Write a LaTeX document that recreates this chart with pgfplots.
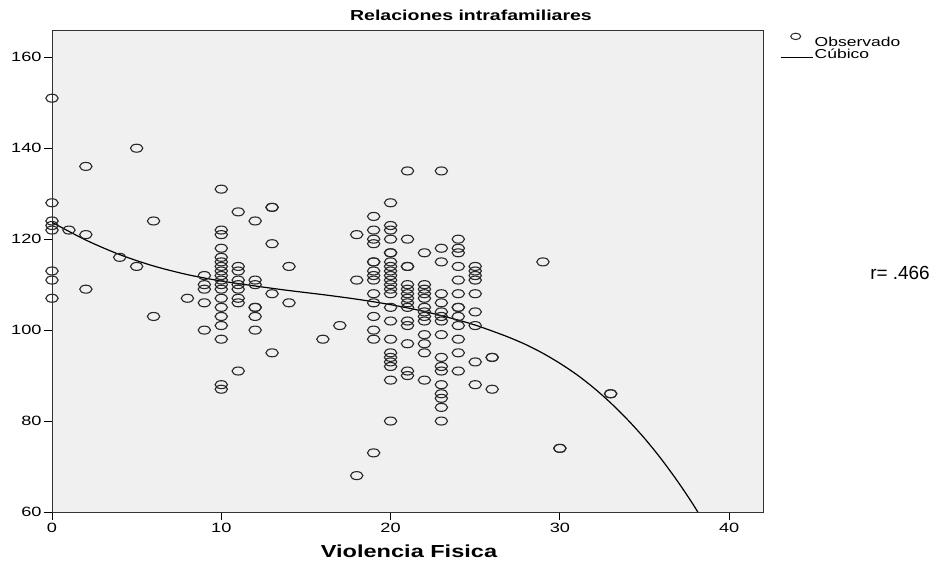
\documentclass[border=0pt]{standalone}
\usepackage{pgfplots}
\pgfplotsset{compat=1.18}
\usepackage{fontspec}
\setmainfont{Liberation Sans}[FakeStretch=1.35]
\newfontfamily\rfont{Liberation Sans}
\definecolor{plotbg}{RGB}{240,240,240}
\definecolor{markc}{RGB}{40,40,40}
\begin{document}
\begin{tikzpicture}[x=1bp,y=1bp]
\useasboundingbox (0,0) rectangle (935,568);
\begin{axis}[
  at={(52bp,56bp)}, anchor=south west,
  scale only axis, width=711bp, height=482bp,
  xmin=0, xmax=42, ymin=60, ymax=166,
  xtick={0,10,20,30,40}, ytick={60,80,100,120,140,160},
  xtick pos=bottom, ytick pos=left, tick align=outside,
  major tick length=8bp,
  tick style={black, line width=0.8bp},
  axis line style={black!80, line width=0.8bp},
  axis background/.style={fill=plotbg},
  /pgf/number format/assume math mode=true,
  ticklabel style={font=\fontsize{13.5}{15}\selectfont},
  yticklabel style={xshift=1bp},
  legend style={at={(1,1)}, anchor=north west, xshift=17bp, yshift=-2.5bp,
    draw=none, fill=none, font=\fontsize{13}{14}\selectfont, row sep=-2.5bp,
    inner sep=0pt, nodes={inner sep=1.5bp}},
  legend cell align=left,
]
\addplot[only marks, mark=o, draw=markc, mark options={xscale=1.55, line width=1.1bp, draw=markc},
  mark size=4.0bp,
  legend image code/.code={\draw[markc, line width=1bp] (15bp,6.5bp) ellipse [x radius=5bp, y radius=3.2bp];}]
table[row sep=\\]{
x y\\
0 151\\ 0 128\\ 0 124\\ 0 123\\ 0 122\\ 0 113\\ 0 111\\ 0 107\\
1 122\\
2 136\\ 2 121\\ 2 109\\
4 116\\
5 140\\ 5 114\\
6 124\\ 6 103\\
8 107\\
9 112\\ 9 110\\ 9 109\\ 9 106\\ 9 100\\
10 131\\ 10 122\\ 10 121\\ 10 118\\ 10 116\\ 10 115\\ 10 114\\ 10 113\\ 10 112\\ 10 111\\ 10 110\\ 10 109\\ 10 107\\ 10 105\\ 10 103\\ 10 101\\ 10 98\\ 10 88\\ 10 87\\
11 126\\ 11 114\\ 11 113\\ 11 111\\ 11 110\\ 11 109\\ 11 107\\ 11 106\\ 11 91\\
12 124\\ 12 111\\ 12 110\\ 12 105\\ 12 105\\ 12 103\\ 12 100\\
13 127\\ 13 127\\ 13 119\\ 13 108\\ 13 95\\
14 114\\ 14 106\\
16 98\\
17 101\\
18 121\\ 18 111\\ 18 68\\
19 125\\ 19 122\\ 19 120\\ 19 119\\ 19 115\\ 19 115\\ 19 113\\ 19 112\\ 19 111\\ 19 108\\ 19 106\\ 19 103\\ 19 100\\ 19 98\\ 19 73\\
20 128\\ 20 123\\ 20 122\\ 20 120\\ 20 117\\ 20 117\\ 20 115\\ 20 114\\ 20 113\\ 20 112\\ 20 111\\ 20 110\\ 20 109\\ 20 108\\ 20 105\\ 20 102\\ 20 98\\ 20 95\\ 20 94\\ 20 93\\ 20 92\\ 20 89\\ 20 80\\
21 135\\ 21 120\\ 21 114\\ 21 114\\ 21 110\\ 21 109\\ 21 108\\ 21 107\\ 21 106\\ 21 105\\ 21 102\\ 21 101\\ 21 97\\ 21 91\\ 21 90\\
22 117\\ 22 110\\ 22 109\\ 22 108\\ 22 107\\ 22 105\\ 22 104\\ 22 103\\ 22 102\\ 22 99\\ 22 97\\ 22 95\\ 22 89\\
23 135\\ 23 118\\ 23 115\\ 23 108\\ 23 106\\ 23 104\\ 23 103\\ 23 102\\ 23 99\\ 23 94\\ 23 92\\ 23 91\\ 23 88\\ 23 86\\ 23 85\\ 23 83\\ 23 80\\
24 120\\ 24 118\\ 24 117\\ 24 114\\ 24 111\\ 24 108\\ 24 105\\ 24 105\\ 24 103\\ 24 101\\ 24 98\\ 24 95\\ 24 91\\
25 114\\ 25 113\\ 25 112\\ 25 111\\ 25 108\\ 25 104\\ 25 101\\ 25 93\\ 25 88\\
26 94\\ 26 94\\ 26 87\\
29 115\\
30 74\\ 30 74\\
33 86\\ 33 86\\
};
\addlegendentry{Observado}
\addplot[black, line width=1.2bp, smooth, no marks,
  legend image code/.code={\draw[black, line width=1bp] (0bp,-3bp) -- (32bp,-3bp);}]
coordinates {(0,123.7) (2,119.8) (4,116.6) (6,114.1) (8,112.2) (10,110.8) (12,109.7) (14,108.7) (16,107.8) (18,106.8) (20,105.6) (22,104.1) (24,102.2) (25,101.1) (26,99.8) (27,98.4) (28,96.8) (29,94.9) (30,92.7) (31,90.2) (32,87.3) (33,84.0) (34,80.3) (35,76.2) (36,71.6) (37,66.5) (38,60.9) (39,54.6)};
\addlegendentry{Cúbico}
\end{axis}
\node at (471,553) {\fontsize{14.5}{16}\selectfont\bfseries Relaciones intrafamiliares};
\node at (409,17) {\fontsize{17.5}{20}\selectfont\bfseries Violencia Fisica};
\node at (900,295) {\rfont\fontsize{19}{22}\selectfont r= .466};
\end{tikzpicture}
\end{document}
